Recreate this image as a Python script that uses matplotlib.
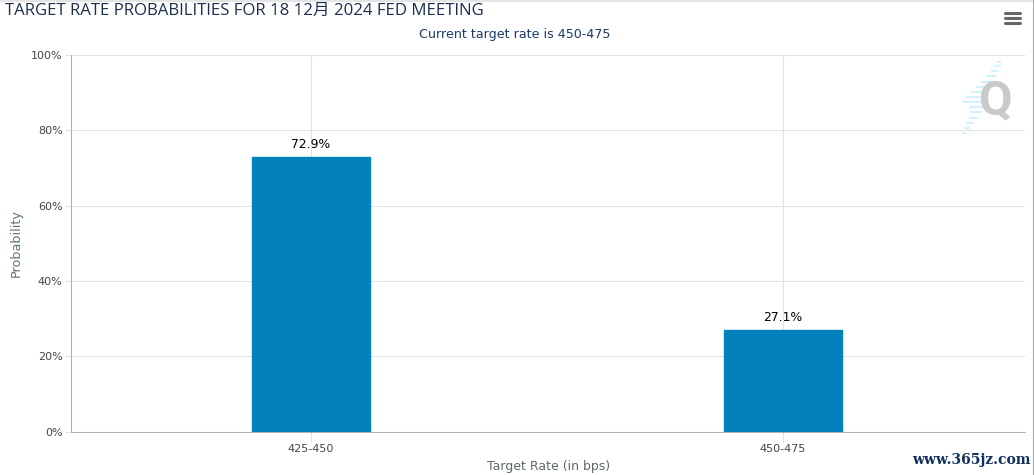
import matplotlib
matplotlib.use("Agg")
import matplotlib.pyplot as plt
from matplotlib.patches import Rectangle
from matplotlib.lines import Line2D

categories = ["425-450", "450-475"]
probabilities = [72.9, 27.1]
labels = ["72.9%", "27.1%"]
yticks = [0, 20, 40, 60, 80, 100]

W, H = 1034, 475
fig = plt.figure(figsize=(W / 100, H / 100), dpi=100, facecolor="white")
FONT = ["DejaVu Sans", "Noto Sans CJK SC"]
TITLE_FONT = ["Open Sans", "Noto Sans CJK SC"]

def fx(x): return x / W
def fy(y): return 1 - y / H

ax = fig.add_axes([fx(71), fy(431.6), (1025 - 71) / W, (431.6 - 55) / H])
ax.set_xlim(-0.5085, 1.5125)
ax.set_ylim(0, 100)
ax.set_axisbelow(True)
ax.grid(True, color="#e2e2e2", lw=0.75)
bars = ax.bar(range(2), probabilities, width=0.2505, color="#0281bc",
              edgecolor="#0281bc", lw=1, joinstyle="round", zorder=3)
for i, (v, t) in enumerate(zip(probabilities, labels)):
    ax.annotate(t, (i, v), xytext=(0, 4.3), textcoords="offset points", ha="center",
                va="bottom", fontsize=8.9, color="black", family=FONT, zorder=4)
ax.set_xticks(range(2), categories)
ax.set_yticks(yticks, [f"{v}%" for v in yticks])
ax.tick_params(axis="x", length=7, width=0.75, color="#e2e2e2", labelsize=8,
               labelcolor="#444444", pad=2)
ax.tick_params(axis="y", length=4, width=0.75, color="#e2e2e2", labelsize=8,
               labelcolor="#444444", pad=2)
for s in ("top", "right"):
    ax.spines[s].set_visible(False)
ax.spines["left"].set_color("#b0b0b0")
ax.spines["bottom"].set_color("#b0b0b0")
ax.spines["left"].set_linewidth(0.75)
ax.spines["bottom"].set_linewidth(0.75)

fig.text(fx(5), fy(10.5), "TARGET RATE PROBABILITIES FOR 18 12月 2024 FED MEETING",
         fontsize=12.05, color="#1c2f4f", va="center", family=TITLE_FONT)
fig.text(fx(515), fy(34.5), "Current target rate is 450-475", fontsize=9.1,
         color="#1c3a66", ha="center", va="center", family=FONT)
fig.text(fx(16), fy(243), "Probability", rotation=90, fontsize=9.2, color="#5f7478",
         ha="center", va="center", family=FONT)
fig.text(fx(548.5), fy(466.5), "Target Rate (in bps)", fontsize=9, color="#5f6a6a",
         ha="center", va="center", family=FONT)
fig.text(fx(1031), fy(460), "www.365jz.com", fontsize=10, color="#12305f",
         ha="right", va="center", family="DejaVu Serif", weight="bold")

# logo
streaks = [(998, 62, 2), (995, 66, 5), (992, 71, 6), (987, 76, 8), (982, 82, 10),
           (977, 87, 10), (972, 92, 10), (967, 97, 13), (963, 102, 17), (970, 107, 14),
           (971, 112, 10), (970, 118, 7), (967, 123, 6), (965, 128, 4), (963, 133, 2)]
for x, y, w in streaks:
    fig.add_artist(Line2D([fx(x), fx(x + w)], [fy(y), fy(y)], color="#cdf0ff", lw=1.3))
fig.text(fx(995.5), fy(101), "Q", fontsize=35, color="#c9c9c9", ha="center", va="center",
         family="Roboto", weight="bold", zorder=5)

# menu icon
for y in (13, 18, 23):
    fig.add_artist(Line2D([fx(1004.5), fx(1019.5)], [fy(y), fy(y)], color="#666666", lw=2.2,
                          solid_capstyle="round"))
# screenshot edges
fig.add_artist(Rectangle((0, fy(2)), 1, 2 / H, transform=fig.transFigure, color="#e4e4e4", lw=0))
fig.add_artist(Rectangle((fx(1033), 0), 1 / W, 1, transform=fig.transFigure, color="#a8a8a8", lw=0))

fig.savefig("out.png", dpi=100)
